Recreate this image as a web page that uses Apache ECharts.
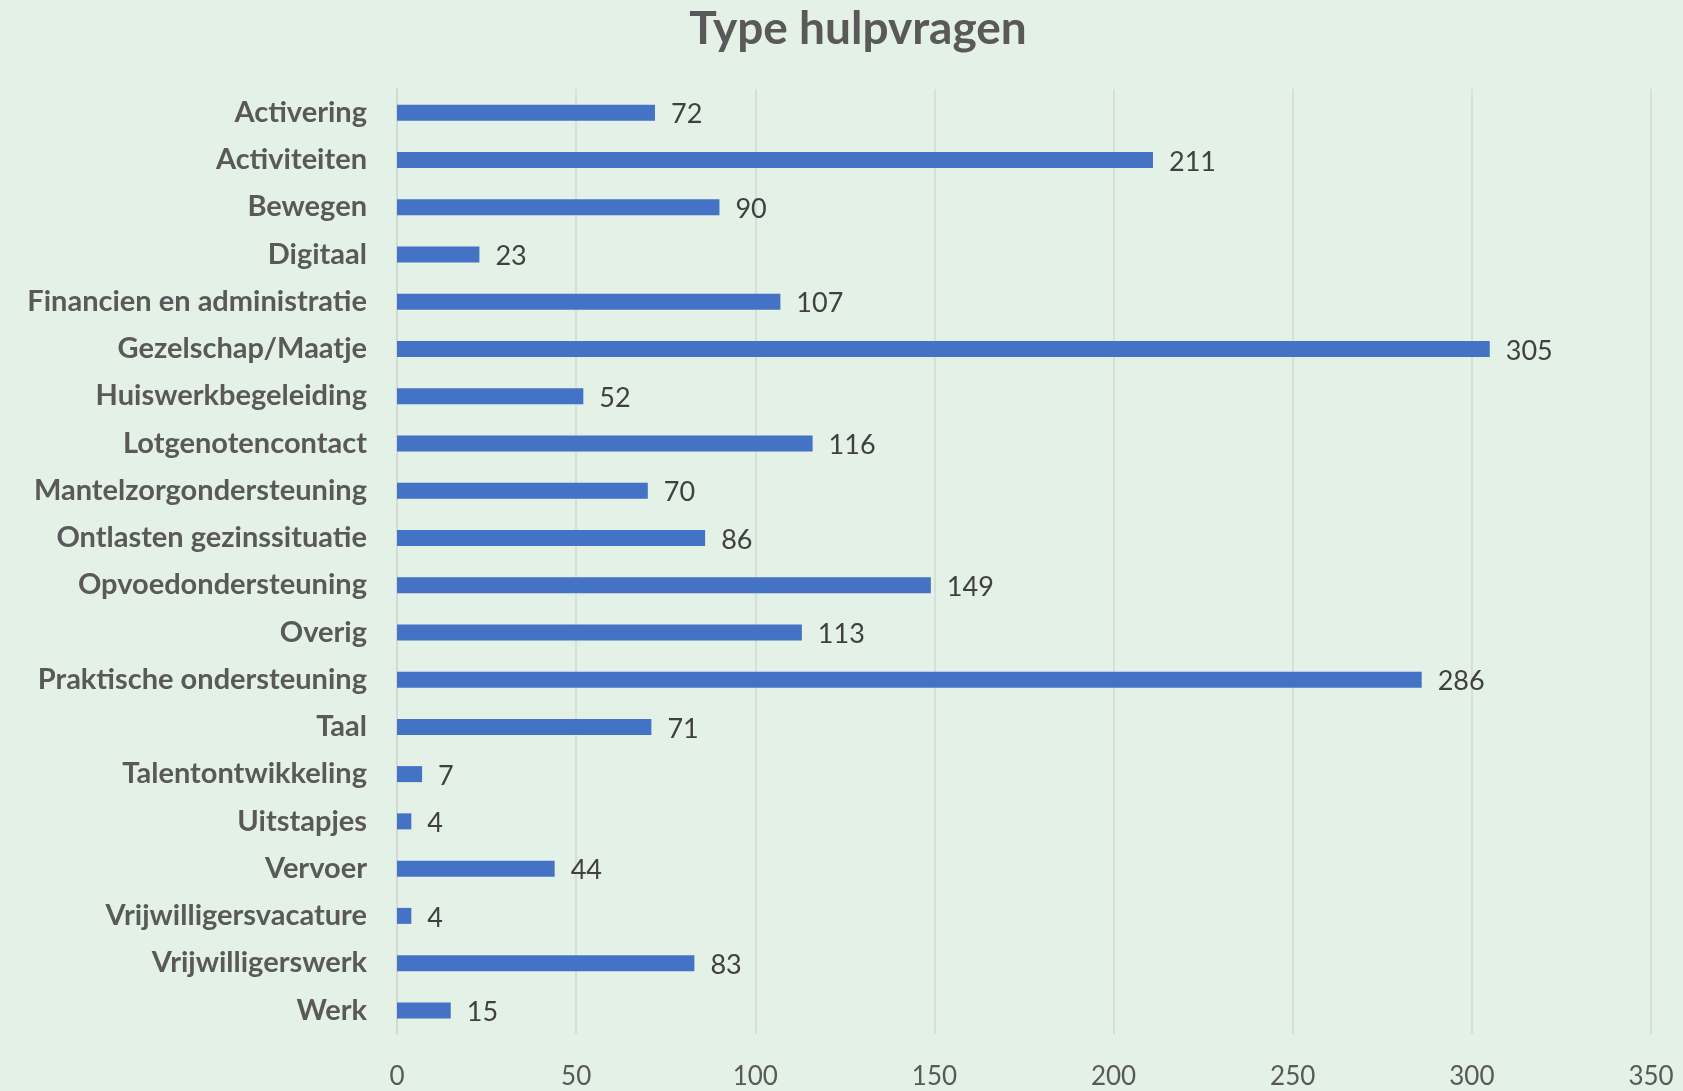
<!DOCTYPE html>
<html>
<head>
<meta charset="utf-8">
<script src="https://cdn.jsdelivr.net/npm/echarts@6/dist/echarts.min.js"></script>
<style>
    html, body { margin: 0; padding: 0; background: #e3f1e7; }
    #main { width: 1683px; height: 1091px; }
</style>
</head>
<body>
<div id="main"></div>
<script>
    // categorieen (van boven naar beneden)
    let categories = ['Activering', 'Activiteiten', 'Bewegen', 'Digitaal', 'Financien en administratie',
        'Gezelschap/Maatje', 'Huiswerkbegeleiding', 'Lotgenotencontact', 'Mantelzorgondersteuning',
        'Ontlasten gezinssituatie', 'Opvoedondersteuning', 'Overig', 'Praktische ondersteuning', 'Taal',
        'Talentontwikkeling', 'Uitstapjes', 'Vervoer', 'Vrijwilligersvacature', 'Vrijwilligerswerk', 'Werk'];
    // aantallen
    let values = [72, 211, 90, 23, 107, 305, 52, 116, 70, 86, 149, 113, 286, 71, 7, 4, 44, 4, 83, 15];

    let font = 'Lato';

    let myChart = echarts.init(document.getElementById('main'));

    myChart.setOption({
        backgroundColor: '#e3f1e7',
        animation: false,
        title: {
            text: 'Type hulpvragen',
            left: 853,
            textAlign: 'center',
            top: 1,
            textStyle: {
                fontFamily: font,
                fontSize: 46,
                fontWeight: 'bold',
                color: '#595959'
            }
        },
        grid: {
            left: 397,
            right: 32,
            top: 89,
            bottom: 57,
            containLabel: false
        },
        xAxis: {
            type: 'value',
            min: 0,
            max: 350,
            interval: 50,
            axisLine: { show: false },
            axisTick: { show: false },
            splitLine: { lineStyle: { color: '#d4d9d5', width: 1.5 } },
            axisLabel: {
                margin: 30,
                fontFamily: font,
                fontSize: 26,
                color: '#595959'
            }
        },
        yAxis: {
            type: 'category',
            data: categories,
            inverse: true,
            axisLine: { show: true, lineStyle: { color: '#d4d9d5', width: 2 } },
            axisTick: { show: false },
            axisLabel: {
                margin: 30,
                fontFamily: font,
                fontSize: 29,
                fontWeight: 'bold',
                color: '#595959'
            }
        },
        series: [
            {
                type: 'bar',
                data: values,
                barWidth: 16,
                itemStyle: { color: '#4472c4' },
                label: {
                    show: true,
                    position: 'right',
                    distance: 16,
                    offset: [0, 2],
                    fontFamily: font,
                    fontSize: 27,
                    color: '#404040'
                }
            }
        ]
    });
</script>
</body>
</html>
